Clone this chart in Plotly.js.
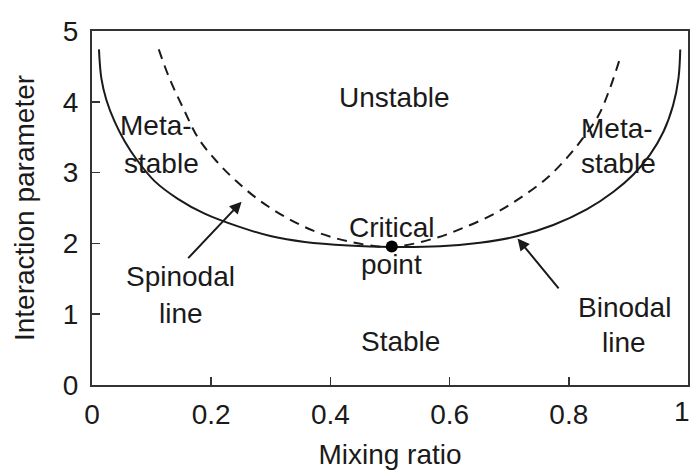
<!DOCTYPE html>
<html>
<head>
<meta charset="utf-8">
<script src="https://cdn.plot.ly/plotly-3.0.1.min.js"></script>
<style>html,body{margin:0;padding:0;background:#fff;}#chart{width:694px;height:470px;}</style>
</head>
<body>
<div id="chart"></div>
<script>
// Binodal line (solid)
const binodalX = [0.0117, 0.0157, 0.024, 0.038, 0.055, 0.077, 0.105, 0.144, 0.189, 0.245, 0.301, 0.357, 0.430, 0.502, 0.584, 0.651, 0.713, 0.774, 0.830, 0.875, 0.908, 0.936, 0.959, 0.975, 0.984, 0.987];
const binodalY = [4.74, 4.33, 4.03, 3.72, 3.44, 3.16, 2.88, 2.63, 2.42, 2.24, 2.10, 2.02, 1.97, 1.95, 1.96, 2.01, 2.10, 2.26, 2.48, 2.73, 2.97, 3.25, 3.58, 3.95, 4.33, 4.74];
// Spinodal line (dashed)
const spinodalX = [0.112, 0.130, 0.153, 0.178, 0.209, 0.242, 0.279, 0.323, 0.374, 0.430, 0.502, 0.578, 0.623, 0.673, 0.718, 0.763, 0.796, 0.824, 0.850, 0.869, 0.885];
const spinodalY = [4.74, 4.33, 3.91, 3.49, 3.16, 2.88, 2.62, 2.38, 2.17, 2.03, 1.95, 2.08, 2.22, 2.41, 2.64, 2.92, 3.20, 3.49, 3.81, 4.19, 4.59];
// Critical point
const criticalX = [0.503];
const criticalY = [1.955];
// Tick values (the last x label sits flush with the right edge, drawn right-anchored)
const xTicks = [0, 0.2, 0.4, 0.6, 0.8, 1];
const xTickLabels = ["0", "0.2", "0.4", "0.6", "0.8", "1"];
const yTicks = [0, 1, 2, 3, 4, 5];
const yTickLabels = ["0", "1", "2", "3", "4", "5"];
// Region / line labels
const labelText = ["Unstable", "Meta-", "stable", "Meta-", "stable", "Critical", "point", "Spinodal", "line", "Stable", "Binodal", "line"];
const labelX = [0.508, 0.107, 0.116, 0.881, 0.883, 0.503, 0.503, 0.149, 0.149, 0.517, 0.893, 0.893];
const labelY = [4.06, 3.67, 3.13, 3.63, 3.13, 2.22, 1.70, 1.53, 1.01, 0.61, 1.09, 0.60];
// Arrows: head and tail positions
const arrowHeadX = [0.251, 0.714];
const arrowHeadY = [2.59, 2.07];
const arrowTailX = [0.159, 0.785];
const arrowTailY = [1.77, 1.345];

const FONT = "Liberation Sans, Arial, Helvetica, sans-serif";
const INK = "#1a1a1a";
const FS = 28;

const traces = [
  {x: binodalX, y: binodalY, mode: "lines", line: {color: INK, width: 2, shape: "spline", smoothing: 1}, hoverinfo: "skip"},
  {x: spinodalX, y: spinodalY, mode: "lines", line: {color: INK, width: 2, dash: "10px,7px", shape: "spline", smoothing: 1}, hoverinfo: "skip"},
  {x: criticalX, y: criticalY, mode: "markers", marker: {color: "#000", size: 12}, hoverinfo: "skip"}
];

const annotations = labelText.map((t, i) => ({
  x: labelX[i], y: labelY[i], xref: "x", yref: "y", text: t, showarrow: false,
  font: {family: FONT, size: FS, color: INK}, xanchor: "center", yanchor: "middle"
}));
for (let i = 0; i < arrowHeadX.length; i++) {
  annotations.push({
    x: arrowHeadX[i], y: arrowHeadY[i], ax: arrowTailX[i], ay: arrowTailY[i],
    xref: "x", yref: "y", axref: "x", ayref: "y", text: "", showarrow: true,
    arrowhead: 2, arrowsize: 1.2, arrowwidth: 2, arrowcolor: INK, standoff: 0
  });
}
// last x tick label, right-anchored at its tick so it stays inside the picture
const lastIdx = xTicks.length - 1;
annotations.push({
  x: xTicks[lastIdx], y: 0, xref: "x", yref: "paper", text: xTickLabels[lastIdx], showarrow: false,
  xanchor: "right", yanchor: "top", yshift: -9, xshift: 4,
  font: {family: FONT, size: FS, color: INK}
});
const shownXTickText = xTickLabels.map((t, i) => i === lastIdx ? "" : t);

const axisCommon = {
  showgrid: false, zeroline: false, showline: true, mirror: true,
  linecolor: "#333", linewidth: 2, ticks: "inside", ticklen: 8, tickwidth: 1.5, tickcolor: "#333",
  tickfont: {family: FONT, size: FS, color: INK}, automargin: false
};

const layout = {
  width: 694, height: 470,
  margin: {l: 92, r: 6, t: 31, b: 85},
  paper_bgcolor: "#fff", plot_bgcolor: "#fff",
  showlegend: false,
  xaxis: Object.assign({}, axisCommon, {
    range: [0, 1], tickvals: xTicks, ticktext: shownXTickText, ticklabelstandoff: 3,
    title: {text: "Mixing ratio", font: {family: FONT, size: FS, color: INK}, standoff: 20}
  }),
  yaxis: Object.assign({}, axisCommon, {
    range: [0, 5], tickvals: yTicks, ticktext: yTickLabels, ticklabelstandoff: 6,
    title: {text: "Interaction parameter", font: {family: FONT, size: FS, color: INK}, standoff: 20}
  }),
  annotations: annotations
};

Plotly.newPlot("chart", traces, layout, {displayModeBar: false, staticPlot: true});
</script>
</body>
</html>
